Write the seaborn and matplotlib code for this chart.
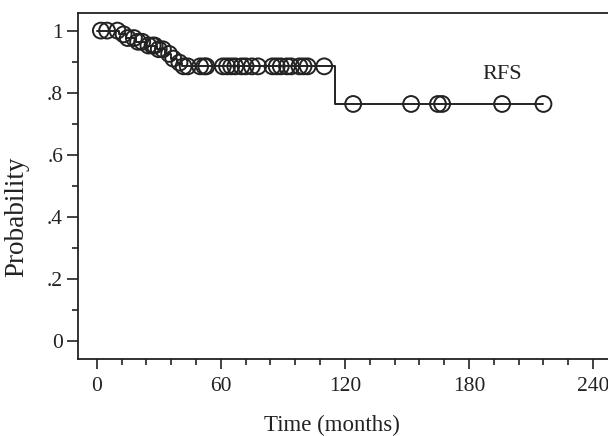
import numpy as np
import pandas as pd
import matplotlib
matplotlib.use("Agg")
import matplotlib.pyplot as plt
import seaborn as sns
from matplotlib.ticker import MultipleLocator, FixedLocator, FixedFormatter

# Kaplan-Meier step curve (months, survival probability)
step_times = [0, 11, 14, 19, 24, 29, 33, 36, 39, 41, 115, 216]
step_surv = [1.0, 0.988, 0.976, 0.964, 0.952, 0.940, 0.925, 0.910, 0.897, 0.885, 0.764, 0.764]

# Censored observations (months)
censor_times = [2, 5, 10, 13, 15, 18, 20, 22, 25, 27, 28, 30, 32, 35, 37, 40,
                42, 44, 50, 52, 53, 61, 63, 65, 67, 70, 72, 75, 78, 85, 87, 89,
                92, 94, 98, 100, 102, 110, 124, 152, 165, 167, 196, 216]

x_ticks = [0, 60, 120, 180, 240]
y_ticks = [0, 0.2, 0.4, 0.6, 0.8, 1.0]
y_tick_labels = ["0", ".2", ".4", ".6", ".8", "1"]

sns.set_theme(style="ticks")
plt.rcParams["font.family"] = ["Liberation Serif", "DejaVu Serif"]

ink = "#222222"
fig = plt.figure(figsize=(6.08, 4.36), dpi=100)
ax = fig.add_axes([0.1288, 0.1766, 0.8712, 0.794])

curve = pd.DataFrame({"time": step_times, "surv": step_surv})
sns.lineplot(data=curve, x="time", y="surv", drawstyle="steps-post",
             color=ink, linewidth=1.4, ax=ax)

idx = np.searchsorted(step_times, censor_times, side="right") - 1
cens = pd.DataFrame({"time": censor_times, "surv": np.asarray(step_surv)[idx]})
sns.scatterplot(data=cens, x="time", y="surv", marker="o", s=130,
                facecolor="none", edgecolor=ink, linewidth=1.4, ax=ax, zorder=3)

ax.text(196, 0.858, "RFS", fontsize=16, color=ink, ha="center", va="center")

ax.set_xlim(-8.9, 247.2)
ax.set_ylim(-0.0563, 1.0572)
ax.xaxis.set_major_locator(FixedLocator(x_ticks))
ax.xaxis.set_minor_locator(MultipleLocator(12))
ax.yaxis.set_major_locator(FixedLocator(y_ticks))
ax.yaxis.set_major_formatter(FixedFormatter(y_tick_labels))
ax.yaxis.set_minor_locator(MultipleLocator(0.1))

ax.tick_params(axis="both", which="major", direction="out", length=7, width=1.2,
               colors=ink, labelsize=15.5)
ax.tick_params(axis="both", which="minor", direction="out", length=4, width=1.2,
               colors=ink)
ax.tick_params(axis="x", which="major", pad=6)
ax.tick_params(axis="y", which="major", length=8, pad=3)

for side in ["left", "bottom", "top"]:
    ax.spines[side].set_color(ink)
    ax.spines[side].set_linewidth(1.3)
ax.spines["right"].set_visible(False)

ax.set_xlabel("Time (months)", fontsize=16.5, color=ink)
ax.set_ylabel("Probability", fontsize=19.5, color=ink)
ax.xaxis.set_label_coords(0.478, -0.162)
ax.yaxis.set_label_coords(-0.093, 0.41)

fig.savefig("out.png", dpi=100)
